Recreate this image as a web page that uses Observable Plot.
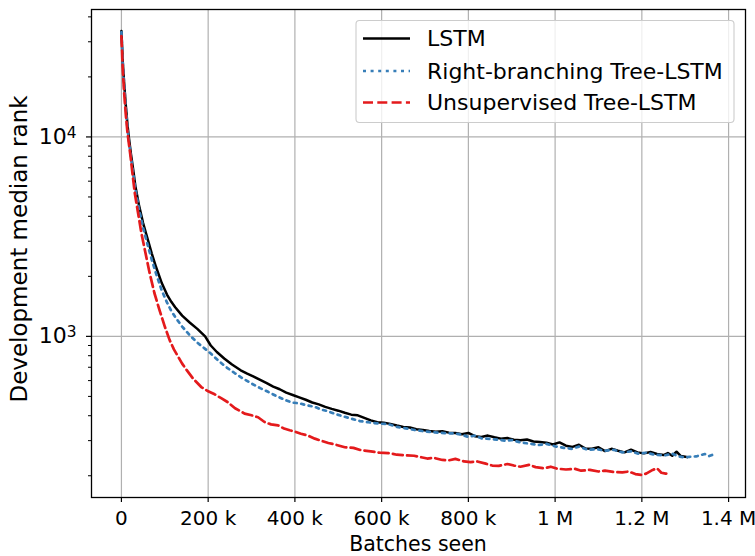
<!DOCTYPE html>
<html>
<head>
<meta charset="utf-8">
<script src="https://cdn.jsdelivr.net/npm/d3@7"></script>
<script src="https://cdn.jsdelivr.net/npm/@observablehq/plot@0.6"></script>
<style>
  html, body { margin: 0; padding: 0; background: white; }
  #chart svg { display: block; }
</style>
</head>
<body>
<div id="chart"></div>
<script>
// ---- Data (batches in thousands, development median rank) ----
const seriesNames = ["LSTM", "Right-branching Tree-LSTM", "Unsupervised Tree-LSTM"];

const lstmK = [0,3,6,10,14,17,22,27,32,40,50,60,70,80,93,105,115,124,140,158,175,193,206,220,237,255,275,290,305,320,335,350,365,380,395,410,425,440,455,470,485,500,515,530,545,560,575,590,605,620,635,650,665,680,695,710,725,740,755,770,785,800,815,830,845,860,875,890,905,920,935,950,965,980,995,1010,1025,1040,1055,1070,1085,1100,1115,1130,1145,1160,1175,1190,1205,1220,1235,1250,1260,1270,1280,1290,1300,1305];
const lstmRank = [34000,24000,19000,14500,11500,10000,8200,6900,5700,4600,3700,3100,2600,2220,1850,1620,1490,1400,1270,1170,1090,1000,900,835,775,722,676,650,628,605,583,560,543,522,508,494,481,466,456,443,433,424,414,405,402,390,379,371,369,364,357,351,349,342,339,335,332,334,329,328,323,328,316,313,318,312,307,309,303,301,304,297,295,293,287,294,283,279,286,274,273,278,266,273,267,262,270,262,259,263,257,254,260,252,264,251,249,248];

const rbK = [0,3,6,10,14,17,22,27,32,40,50,60,70,80,93,105,115,124,140,158,175,193,206,223,240,261,280,300,320,338,355,377,395,410,425,446,460,475,492,510,531,550,569,590,615,635,661,680,700,723,745,765,784,800,815,830,850,870,884,900,920,940,961,980,1000,1020,1038,1055,1075,1095,1115,1135,1155,1175,1192,1210,1230,1253,1270,1285,1300,1310,1325,1345,1355,1370];
const rbRank = [33500,23500,18500,14000,11000,9600,7900,6600,5500,4400,3500,2900,2420,2060,1700,1480,1340,1250,1120,1010,930,865,820,758,705,655,615,580,550,527,505,480,465,462,452,443,430,422,409,398,386,376,371,366,363,352,344,338,334,330,327,326,322,313,318,308,306,303,300,302,294,290,285,289,281,276,273,280,270,272,267,270,262,265,258,261,255,253,258,250,247,249,250,257,251,258];

const unsK = [0,3,6,10,14,21,26,31,38,46,55,65,76,88,100,111,121,131,140,150,165,184,200,215,230,245,262,284,300,315,330,345,361,375,388,400,414,430,446,460,477,495,515,535,554,575,595,615,635,655,675,690,705,720,740,755,770,790,805,820,840,855,870,890,905,920,940,955,975,990,1005,1025,1045,1060,1080,1100,1115,1135,1155,1170,1185,1200,1210,1225,1235,1245,1255,1262];
const unsRank = [32000,22000,17000,13000,10500,8000,6400,5200,4200,3300,2650,2080,1650,1350,1120,960,860,790,730,680,615,557,530,512,490,468,436,410,402,393,372,362,358,345,338,333,325,318,307,300,292,286,278,276,268,265,261,260,255,253,252,248,244,246,240,239,243,236,234,236,230,225,224,229,225,222,227,221,218,222,217,215,217,212,214,210,212,209,208,210,204,202,205,214,218,207,205,206];

const xTicks = [0, 200000, 400000, 600000, 800000, 1000000, 1200000, 1400000];
const xTickLabels = ["0", "200 k", "400 k", "600 k", "800 k", "1 M", "1.2 M", "1.4 M"];
const yMajor = [1000, 10000];
const yMajorExp = ["3", "4"];
const yMinor = [200,300,400,500,600,700,800,900,2000,3000,4000,5000,6000,7000,8000,9000,20000,30000,40000];

const xLabel = "Batches seen";
const yLabel = "Development median rank";

// ---- Build table ----
function build(ks, rs, name) {
  return ks.map((k, i) => ({batches: k * 1000, rank: rs[i], series: name}));
}
const lstm = build(lstmK, lstmRank, seriesNames[0]);
const rb = build(rbK, rbRank, seriesNames[1]);
const uns = build(unsK, unsRank, seriesNames[2]);

const colors = ["#000000", "#377eb8", "#e41a1c"];
const dashes = [null, "3,4.6", "10,4.3"];
const widths = [2.5, 2.7, 2.7];

const W = 755, H = 556;
const mL = 91, mR = 10, mT = 9, mB = 59;

const chart = Plot.plot({
  width: W, height: H,
  marginLeft: mL, marginRight: mR, marginTop: mT, marginBottom: mB,
  style: {fontFamily: "DejaVu Sans", fontSize: "20px", background: "white", color: "black"},
  x: {domain: [-69000, 1439000]},
  y: {type: "log", domain: [155.6, 43550]},
  marks: [
    Plot.gridX(xTicks, {stroke: "#b0b0b0", strokeOpacity: 1, strokeWidth: 1.2}),
    Plot.gridY(yMajor, {stroke: "#b0b0b0", strokeOpacity: 1, strokeWidth: 1.2}),
    Plot.axisX(xTicks, {tickFormat: d => xTickLabels[xTicks.indexOf(d)], tickSize: 5, tickPadding: 8, label: null, stroke: "black", strokeWidth: 1.2, fontSize: 20}),
    Plot.axisY(yMajor, {tickFormat: d => "10^" + yMajorExp[yMajor.indexOf(d)], tickSize: 5, tickPadding: 10, label: null, stroke: "black", strokeWidth: 1.2, fontSize: 22}),
    Plot.axisY(yMinor, {tickFormat: () => "", tickSize: 3, label: null, stroke: "black", strokeWidth: 1}),
    Plot.line(lstm, {x: "batches", y: "rank", stroke: colors[0], strokeWidth: widths[0]}),
    Plot.line(rb, {x: "batches", y: "rank", stroke: colors[1], strokeWidth: widths[1], strokeDasharray: dashes[1]}),
    Plot.line(uns, {x: "batches", y: "rank", stroke: colors[2], strokeWidth: widths[2], strokeDasharray: dashes[2]}),
    Plot.frame({stroke: "black", strokeWidth: 1.3})
  ]
});

document.getElementById("chart").appendChild(chart);
const svg = d3.select(chart);

// superscript tick labels for the log axis
svg.selectAll("text").each(function() {
  const t = this.textContent;
  const m = /^10\^(\d)$/.exec(t);
  if (m) {
    const sel = d3.select(this);
    sel.text("10");
    sel.append("tspan").attr("dy", "-0.42em").attr("font-size", "0.7em").text(m[1]);
  }
});

// axis labels
svg.append("text")
  .attr("x", mL + (W - mL - mR) / 2).attr("y", 551)
  .attr("text-anchor", "middle")
  .attr("font-family", "DejaVu Sans").attr("font-size", 20.5).attr("fill", "black")
  .text(xLabel);
svg.append("text")
  .attr("transform", `translate(27,${mT + (H - mT - mB) / 2 - 4}) rotate(-90)`)
  .attr("text-anchor", "middle")
  .attr("font-family", "DejaVu Sans").attr("font-size", 23).attr("fill", "black")
  .text(yLabel);

// legend
const lg = svg.append("g");
lg.append("rect").attr("x", 356).attr("y", 20.5).attr("width", 378).attr("height", 102)
  .attr("rx", 3.5).attr("fill", "white").attr("fill-opacity", 0.8)
  .attr("stroke", "#cccccc").attr("stroke-width", 1.1);
const rowY = [38.5, 71, 102.5];
seriesNames.forEach((name, i) => {
  lg.append("line").attr("x1", 363).attr("x2", 410).attr("y1", rowY[i]).attr("y2", rowY[i])
    .attr("stroke", colors[i]).attr("stroke-width", widths[i])
    .attr("stroke-dasharray", dashes[i]);
  lg.append("text").attr("x", 427).attr("y", rowY[i]).attr("dy", "0.36em")
    .attr("text-anchor", "start")
    .attr("font-family", "DejaVu Sans").attr("font-size", 22).attr("fill", "black")
    .text(name);
});
</script>
</body>
</html>
